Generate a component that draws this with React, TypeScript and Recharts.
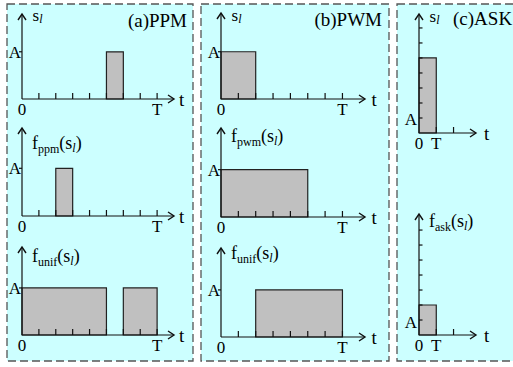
import React from 'react';
import { ComposedChart, XAxis, YAxis, ReferenceArea } from 'recharts';

const FONT = '"Liberation Serif", "Times New Roman", serif';

// Pulses: start / end in time slots, level in units of A
const ppmSignal = [{ start: 5, end: 6, level: 1 }];
const ppmDensity = [{ start: 2, end: 3, level: 1 }];
const ppmUniform = [
  { start: 0, end: 5, level: 1 },
  { start: 6, end: 8, level: 1 },
];
const pwmSignal = [{ start: 0, end: 2, level: 1 }];
const pwmDensity = [{ start: 0, end: 5, level: 1 }];
const pwmUniform = [{ start: 2, end: 7, level: 1 }];
const askSignal = [{ start: 0, end: 1, level: 5 }];
const askDensity = [{ start: 0, end: 1, level: 2 }];

const ppmTimeTicks = [0, 1, 2, 3, 4, 5, 6, 7, 8];
const pwmTimeTicks = [0, 1, 2, 3, 4, 5, 6, 7];
const askTimeTicks = [0, 1, 2];
const pulseLevelTicks = [1];
const askLevelTicks = [1, 2, 3, 4, 5, 6, 7];
const PERIOD_PPM = 8;
const PERIOD_PWM = 7;
const PERIOD_ASK = 1;

type Pulse = { start: number; end: number; level: number };

type PlotProps = {
  pulses: Pulse[];
  x0: number;
  y0: number;
  pw: number;
  ph: number;
  xMax: number;
  yMax: number;
  xTicks: number[];
  period: number;
  yTicks: number[];
  inwardY?: boolean;
  sub: string | null;
  labelDy: number;
  tDx: number;
};

const AX = '#111';

function FLabel({ x, y, sub }: { x: number; y: number; sub: string }) {
  return (
    <text x={x} y={y} fontSize={18} fontFamily={FONT} fill="#000">
      f<tspan fontSize={12} dy={4}>{sub}</tspan>
      <tspan dy={-4}>(s</tspan>
      <tspan fontSize={12} fontStyle="italic" dy={3}>l</tspan>
      <tspan dy={-3}>)</tspan>
    </text>
  );
}

function SLabel({ x, y }: { x: number; y: number }) {
  return (
    <text x={x} y={y} fontSize={17} fontFamily={FONT} fill="#000">
      s<tspan fontSize={12} fontStyle="italic" dy={2}>l</tspan>
    </text>
  );
}

function PulsePlot(p: PlotProps) {
  const W = 26;
  const H = 26;
  const MT = 14;
  const MR = 22;
  const w = W + p.pw + MR;
  const h = MT + p.ph + H;

  const xTick = (props: any) => {
    const { x, y, payload } = props;
    const v = payload.value;
    const label = v === 0 ? '0' : v === p.period ? 'T' : '';
    return (
      <g>
        {v !== 0 && <line x1={x} y1={y} x2={x} y2={y - 6} stroke={AX} strokeWidth={1.2} />}
        {label && (
          <text x={x} y={y + 16} textAnchor="middle" fontSize={17} fontFamily={FONT} fill="#000">
            {label}
          </text>
        )}
      </g>
    );
  };

  const yTick = (props: any) => {
    const { x, y, payload } = props;
    const v = payload.value;
    return (
      <g>
        <line x1={x} y1={y} x2={p.inwardY ? x + 3.5 : x - 3} y2={y} stroke={AX} strokeWidth={1.2} />
        {v === 1 && (
          <text
            x={p.inwardY ? x - 2 : x - 1}
            y={y + (p.inwardY ? 7.5 : 6)}
            textAnchor="end"
            fontSize={17}
            fontFamily={FONT}
            fill="#000"
          >
            A
          </text>
        )}
      </g>
    );
  };

  const xLabel = (props: any) => {
    const vb = props.viewBox || {};
    const tx = vb.x + vb.width;
    const ay = vb.y;
    return (
      <g>
        <polyline
          points={`${tx - 6},${ay - 4} ${tx},${ay} ${tx - 6},${ay + 4}`}
          fill="none"
          stroke={AX}
          strokeWidth={1.4}
        />
        <text x={tx + p.tDx} y={ay + 6.5} fontSize={19} fontFamily={FONT} fill="#000">
          t
        </text>
      </g>
    );
  };

  const yLabel = (props: any) => {
    const vb = props.viewBox || {};
    const ax = vb.x + vb.width;
    const ay = vb.y;
    return (
      <g>
        <polyline
          points={`${ax - 4},${ay + 6} ${ax},${ay} ${ax + 4},${ay + 6}`}
          fill="none"
          stroke={AX}
          strokeWidth={1.4}
        />
        {p.sub ? <FLabel x={ax + 10} y={ay + p.labelDy} sub={p.sub} /> : <SLabel x={ax + 10.5} y={ay + p.labelDy} />}
      </g>
    );
  };

  return (
    <div style={{ position: 'absolute', left: p.x0 - W, top: p.y0 - p.ph - MT, width: w, height: h }}>
      <ComposedChart width={w} height={h} data={p.pulses} margin={{ top: MT, right: MR, bottom: 0, left: 0 }}>
        {p.pulses.map((q, i) => (
          <ReferenceArea
            key={i}
            x1={q.start}
            x2={q.end}
            y1={0}
            y2={q.level}
            fill="#c0c0c0"
            fillOpacity={1}
            stroke="#222"
            strokeWidth={1.2}
            ifOverflow="visible"
          />
        ))}
        <XAxis
          type="number"
          dataKey="start"
          domain={[0, p.xMax]}
          allowDataOverflow
          ticks={p.xTicks}
          interval={0}
          height={H}
          tickSize={0}
          tickMargin={0}
          tickLine={false}
          axisLine={{ stroke: AX, strokeWidth: 1.2 }}
          tick={xTick}
          label={{ content: xLabel }}
        />
        <YAxis
          type="number"
          dataKey="level"
          domain={[0, p.yMax]}
          allowDataOverflow
          ticks={p.yTicks}
          interval={0}
          width={W}
          tickSize={0}
          tickMargin={0}
          tickLine={false}
          axisLine={{ stroke: AX, strokeWidth: 1.2 }}
          tick={yTick}
          label={{ content: yLabel }}
        />
      </ComposedChart>
    </div>
  );
}

export default function App() {
  const panelStyle = { fill: '#ccffff', stroke: '#555', strokeWidth: 1.3, strokeDasharray: '8 4' };
  return (
    <div
      style={{
        position: 'absolute',
        left: 0,
        top: 0,
        width: 513,
        height: 367,
        background: '#fff',
        overflow: 'hidden',
        fontFamily: FONT,
      }}
    >
      <svg width={513} height={367} style={{ position: 'absolute', left: 0, top: 0 }}>
        <rect x={7} y={4} width={186} height={357} {...panelStyle} />
        <rect x={201} y={4} width={188} height={357} {...panelStyle} />
        <rect x={397} y={4} width={130} height={357} {...panelStyle} />
      </svg>

      <PulsePlot pulses={ppmSignal} x0={22} y0={99} pw={152} ph={85} xMax={9} yMax={1.8} xTicks={ppmTimeTicks} period={PERIOD_PPM} yTicks={pulseLevelTicks} sub={null} labelDy={7} tDx={5} />
      <PulsePlot pulses={ppmDensity} x0={22} y0={216} pw={152} ph={88} xMax={9} yMax={1.845} xTicks={ppmTimeTicks} period={PERIOD_PPM} yTicks={pulseLevelTicks} sub="ppm" labelDy={20.5} tDx={5} />
      <PulsePlot pulses={ppmUniform} x0={22} y0={335} pw={152} ph={88} xMax={9} yMax={1.87} xTicks={ppmTimeTicks} period={PERIOD_PPM} yTicks={pulseLevelTicks} sub="unif" labelDy={14.5} tDx={5} />

      <PulsePlot pulses={pwmSignal} x0={221} y0={99} pw={144} ph={86} xMax={8.3} yMax={1.82} xTicks={pwmTimeTicks} period={PERIOD_PWM} yTicks={pulseLevelTicks} sub={null} labelDy={8} tDx={6.5} />
      <PulsePlot pulses={pwmDensity} x0={221} y0={217} pw={144} ph={89} xMax={8.3} yMax={1.88} xTicks={pwmTimeTicks} period={PERIOD_PWM} yTicks={pulseLevelTicks} sub="pwm" labelDy={13.5} tDx={6.5} />
      <PulsePlot pulses={pwmUniform} x0={221} y0={337} pw={144} ph={89} xMax={8.3} yMax={1.89} xTicks={pwmTimeTicks} period={PERIOD_PWM} yTicks={pulseLevelTicks} sub="unif" labelDy={11} tDx={6.5} />

      <PulsePlot pulses={askSignal} x0={419} y0={133} pw={57} ph={119} xMax={3.3} yMax={7.93} xTicks={askTimeTicks} period={PERIOD_ASK} yTicks={askLevelTicks} inwardY sub={null} labelDy={7.5} tDx={8} />
      <PulsePlot pulses={askDensity} x0={419} y0={335} pw={57} ph={121} xMax={3.3} yMax={8.07} xTicks={askTimeTicks} period={PERIOD_ASK} yTicks={askLevelTicks} inwardY sub="ask" labelDy={13} tDx={8} />

      <svg width={513} height={367} style={{ position: 'absolute', left: 0, top: 0, pointerEvents: 'none' }} fontFamily={FONT} fill="#000">
        <text x={187} y={26.5} fontSize={19} textAnchor="end">(a)PPM</text>
        <text x={382} y={26} fontSize={19} textAnchor="end">(b)PWM</text>
        <text x={453} y={25} fontSize={19}>(c)ASK</text>
      </svg>
    </div>
  );
}
